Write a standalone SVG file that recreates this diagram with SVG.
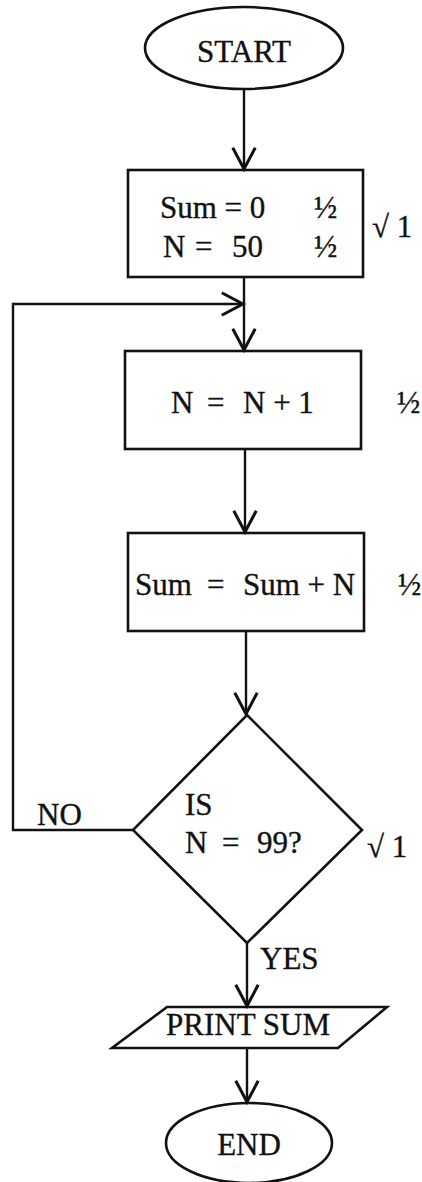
<svg xmlns="http://www.w3.org/2000/svg" width="422" height="1182" viewBox="0 0 422 1182">
<style>
.s{fill:none;stroke:#111;stroke-width:2.6}
.c{fill:none;stroke:#111;stroke-width:2.4}
text{font-family:"Liberation Serif","DejaVu Serif",serif;font-size:31px;fill:#111;stroke:#111;stroke-width:0.35}
.m{text-anchor:middle}
</style>
<defs>
<marker id="ah" markerUnits="userSpaceOnUse" markerWidth="30" markerHeight="30" refX="0" refY="0" viewBox="-20 -12 24 24" orient="auto" overflow="visible">
<path d="M-17,-9 L0,0 L-17,9" fill="none" stroke="#111" stroke-width="2.4"/>
</marker>
</defs>
<rect width="422" height="1182" fill="#fff"/>
<g id="connectors">
<line class="c" x1="244" y1="89" x2="244" y2="169" marker-end="url(#ah)"/>
<line class="c" x1="244" y1="277" x2="244" y2="350" marker-end="url(#ah)"/>
<polyline class="c" points="133,830 13,830 13,304 243,304" marker-end="url(#ah)"/>
<line class="c" x1="245" y1="449" x2="245" y2="532" marker-end="url(#ah)"/>
<line class="c" x1="246" y1="631" x2="246" y2="714" marker-end="url(#ah)"/>
<line class="c" x1="247" y1="943" x2="247" y2="1006" marker-end="url(#ah)"/>
<line class="c" x1="247" y1="1048" x2="247" y2="1102" marker-end="url(#ah)"/>
<text x="37" y="825">NO</text>
<text x="260" y="969">YES</text>
</g>
<g id="start">
<ellipse class="s" cx="244" cy="48" rx="99" ry="41"/>
<text class="m" x="244" y="62">START</text>
</g>
<g id="init">
<rect class="s" x="128" y="170" width="235" height="107"/>
<text x="160" y="218">Sum = 0</text>
<text x="314" y="218">½</text>
<text y="257"><tspan x="163">N</tspan><tspan x="195">=</tspan><tspan x="232">50</tspan></text>
<text x="314" y="257">½</text>
<text x="372" y="237">√ 1</text>
</g>
<g id="increment">
<rect class="s" x="125" y="351" width="236" height="98"/>
<text y="413"><tspan x="171">N</tspan><tspan x="207">=</tspan><tspan x="243">N + 1</tspan></text>
<text x="397" y="413">½</text>
</g>
<g id="accumulate">
<rect class="s" x="128" y="533" width="236" height="98"/>
<text y="595"><tspan x="135">Sum</tspan><tspan x="207">=</tspan><tspan x="243">Sum + N</tspan></text>
<text x="398" y="595">½</text>
</g>
<g id="decision">
<polygon class="s" points="247,715 362,830 247,943 133,830"/>
<text x="185" y="815">IS</text>
<text y="853"><tspan x="185">N</tspan><tspan x="222">=</tspan><tspan x="257">99?</tspan></text>
<text x="367" y="857">√ 1</text>
</g>
<g id="print">
<polygon class="s" points="167,1007 387,1007 338,1048 112,1048"/>
<text x="166" y="1035">PRINT SUM</text>
</g>
<g id="end">
<ellipse class="s" cx="249" cy="1143" rx="83" ry="40"/>
<text class="m" x="249" y="1155">END</text>
</g>
</svg>
